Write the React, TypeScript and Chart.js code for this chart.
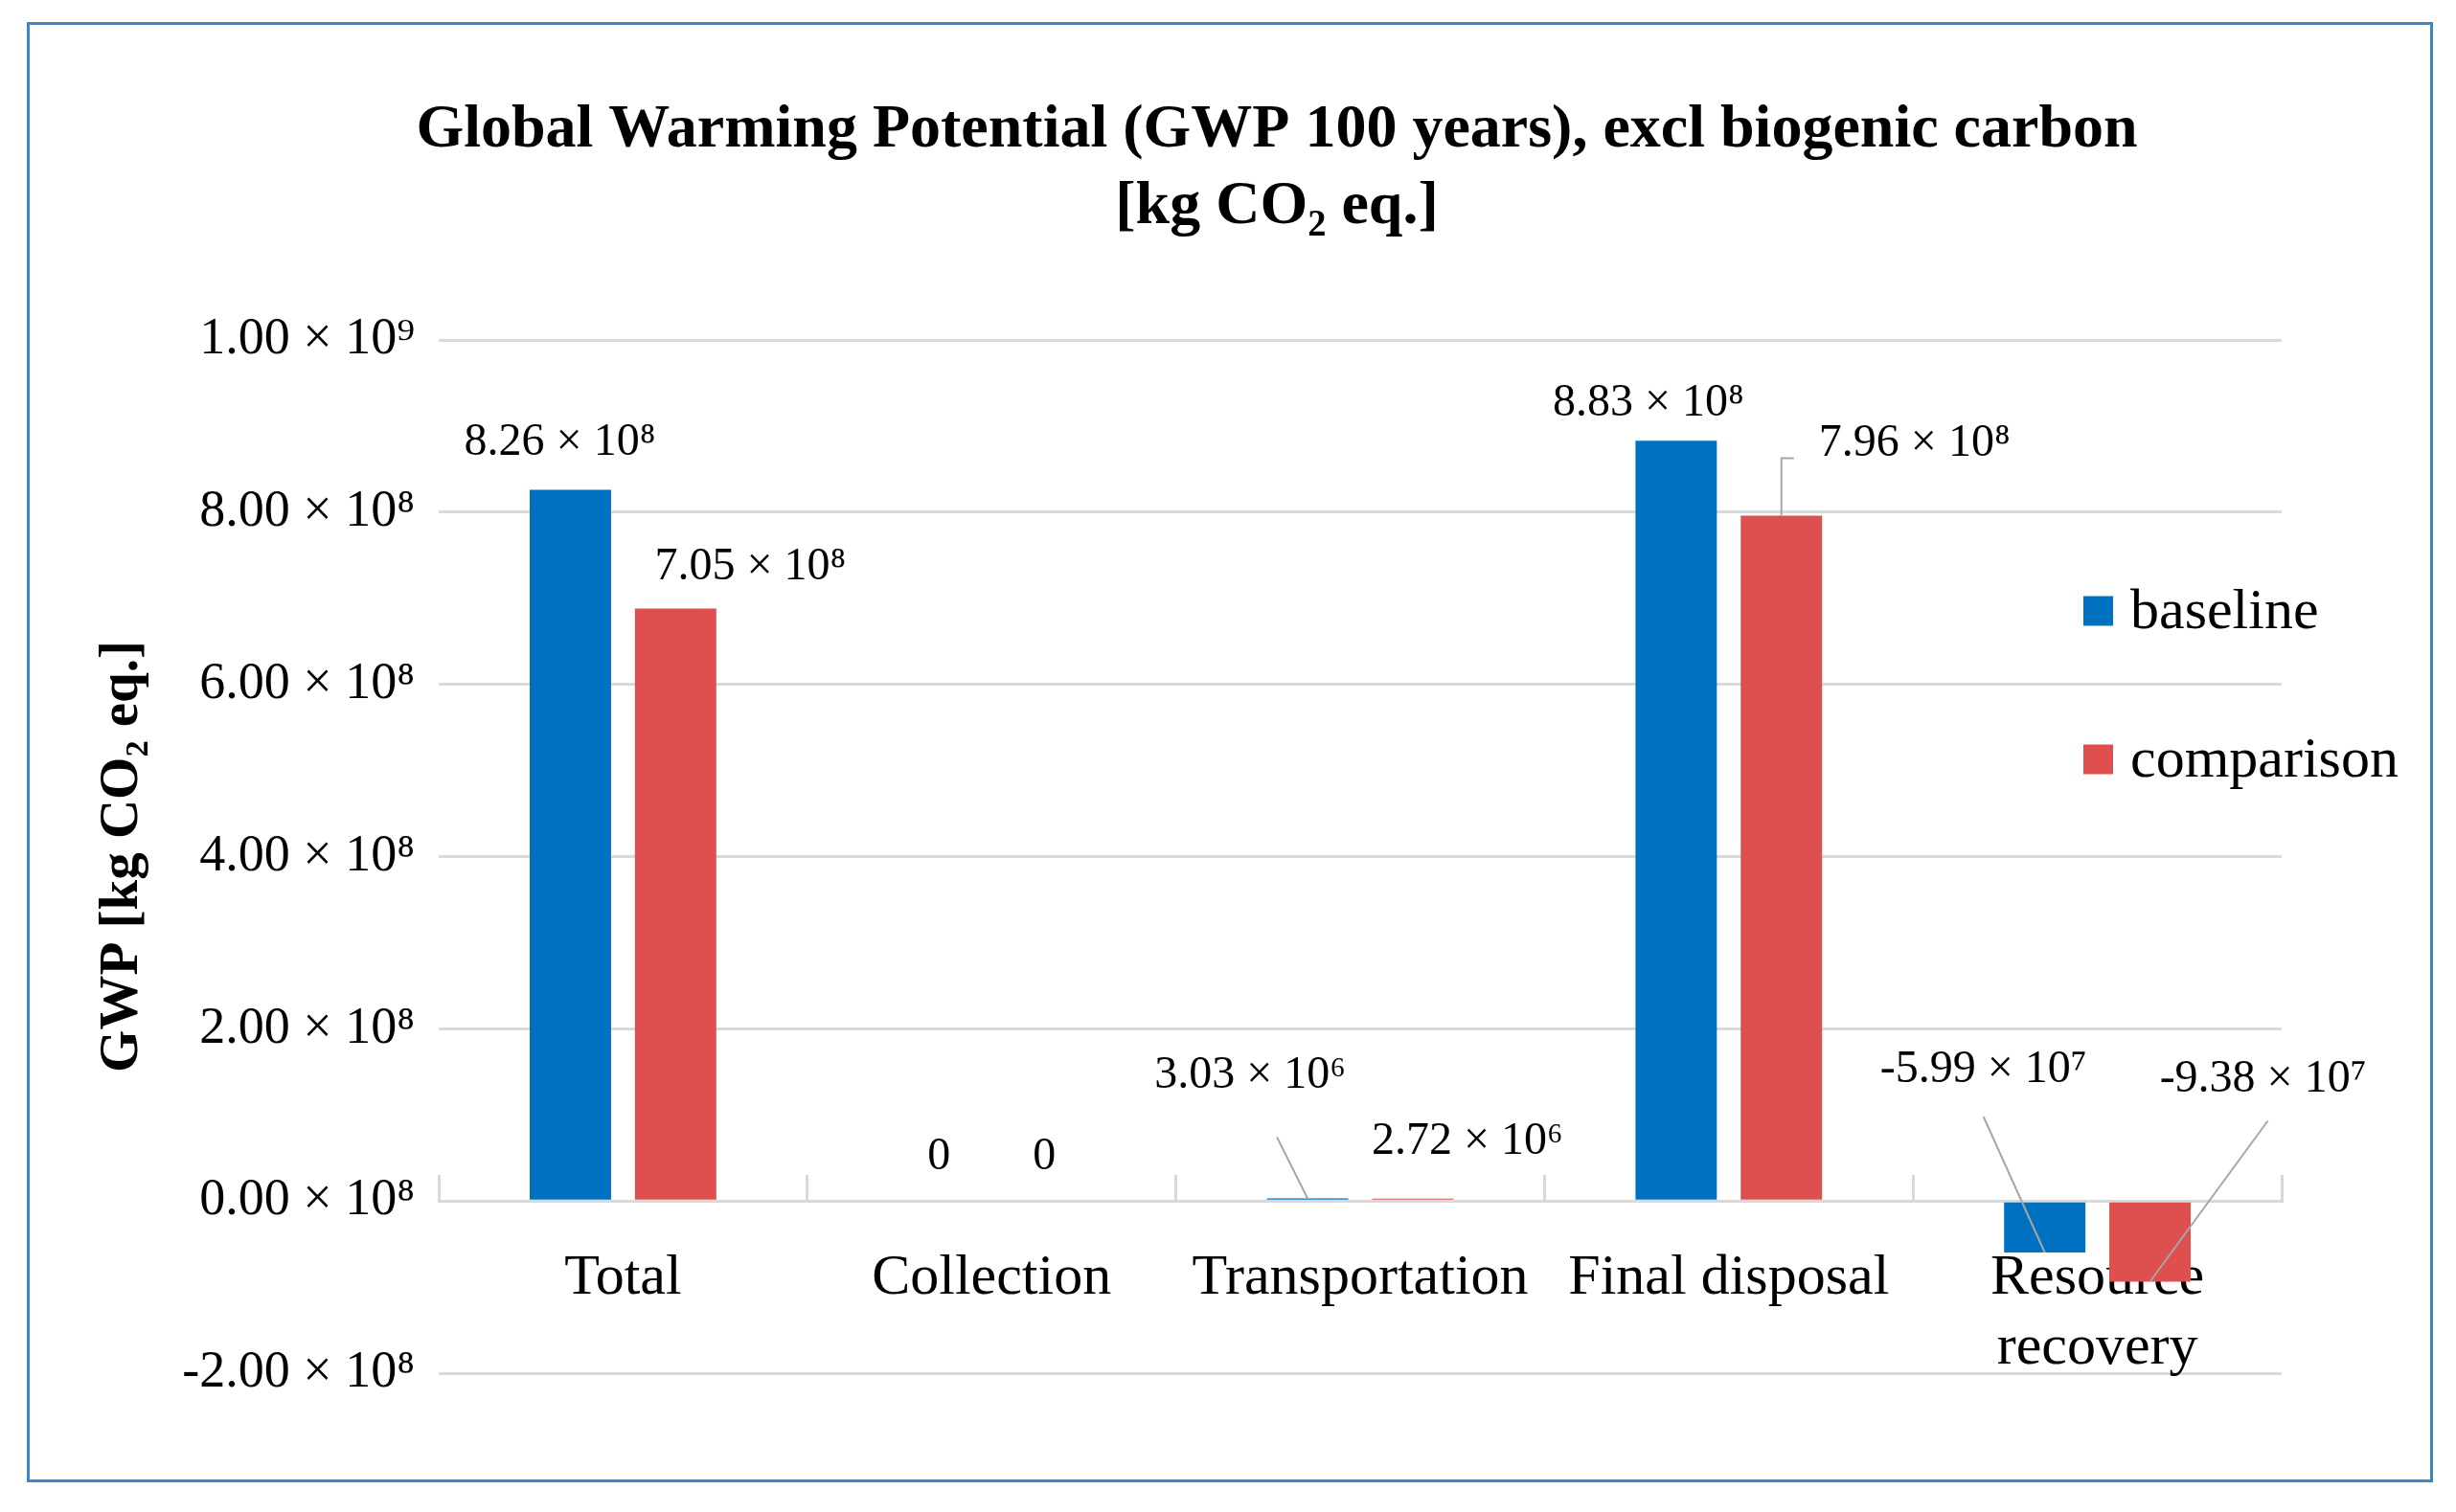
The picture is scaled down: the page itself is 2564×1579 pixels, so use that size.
import { useEffect, useRef } from 'react';
import { Chart, registerables } from 'chart.js';

Chart.register(...registerables);

// ---- data ----
const categories: (string | string[])[] = ['Total', 'Collection', 'Transportation', 'Final disposal', ['Resource', 'recovery']];
const seriesNames = ['baseline', 'comparison'];
// bar heights as drawn in the picture
const baselineValues = [8.26e8, 0, 3.03e6, 8.83e8, -5.99e7];
const comparisonValues = [6.88e8, 0, 2.72e6, 7.96e8, -9.38e7];
// values printed in the data labels
const baselineLabels = [8.26e8, 0, 3.03e6, 8.83e8, -5.99e7];
const comparisonLabels = [7.05e8, 0, 2.72e6, 7.96e8, -9.38e7];
const yMin = -2e8;
const yMax = 1e9;
const yStep = 2e8;
const titleLines = ['Global Warming Potential (GWP 100 years), excl biogenic carbon', '[kg CO\u2082 eq.]'];
const yAxisTitle = 'GWP [kg CO\u2082 eq.]';

// ---- styles / layout ----
const FONT = "'Liberation Serif', 'DejaVu Serif', serif";
const BLUE = '#0070C0';
const RED = '#DE5050';
const GRID = '#D9D9D9';
const LEADER = '#A6A6A6';
const FRAME = '#3E86C6';

// label offsets (px) relative to the value end of each bar, as positioned in the original
const labelOffsets: number[][][] = [
  [[-11, -49], [0, -46], [-60, -128], [-29, -39], [-64, -191]],
  [[78, -43], [0, -46], [57, -59], [139, -75], [118, -211]],
];
// leader line type: 0 none, 1 straight from label, 2 elbow
const leaderTypes: number[][] = [
  [0, 0, 1, 0, 1],
  [0, 0, 0, 2, 1],
];
const leaderStarts: number[][][] = [
  [[0, 0], [0, 0], [28, 64], [0, 0], [0, 49]],
  [[0, 0], [0, 0], [0, 0], [0, 0], [5, 43]],
];
const allLabels = [baselineLabels, comparisonLabels];

const SUP = ['\u2070', '\u00b9', '\u00b2', '\u00b3', '\u2074', '\u2075', '\u2076', '\u2077', '\u2078', '\u2079'];
const sup = (n: number) => String(n).split('').map((d) => SUP[Number(d)]).join('');

function fmtTick(v: number): string {
  const exp = Math.abs(v) >= 1e9 ? 9 : 8;
  const m = v / Math.pow(10, exp);
  return `${m.toFixed(2)} \u00d7 10${sup(exp)}`;
}

function fmtLabel(v: number): string {
  if (v === 0) return '0';
  const exp = Math.floor(Math.log10(Math.abs(v)));
  const m = v / Math.pow(10, exp);
  return `${m.toFixed(2)} \u00d7 10${sup(exp)}`;
}

const decorPlugin = {
  id: 'decor',
  afterDraw(chart: any) {
    const { ctx, chartArea } = chart;
    ctx.save();
    // frame
    ctx.strokeStyle = FRAME;
    ctx.lineWidth = 3;
    ctx.strokeRect(29.5, 24.5, chart.width - 55, chart.height - 57);

    // title
    ctx.fillStyle = '#000';
    ctx.textAlign = 'center';
    ctx.textBaseline = 'alphabetic';
    ctx.font = `bold 64px ${FONT}`;
    const cx = chart.width / 2 + 51;
    ctx.fillText(titleLines[0], cx, 153);
    ctx.fillText(titleLines[1], cx, 233);

    // data labels
    ctx.font = `48px ${FONT}`;
    ctx.textBaseline = 'middle';
    chart.data.datasets.forEach((ds: any, di: number) => {
      const meta = chart.getDatasetMeta(di);
      meta.data.forEach((el: any, i: number) => {
        const v = allLabels[di][i];
        const [dx, dy] = labelOffsets[di][i];
        const lx = el.x + dx;
        const ly = el.y + dy;
        ctx.fillStyle = '#000';
        ctx.textAlign = 'center';
        ctx.fillText(fmtLabel(v), lx, ly);
        const lt = leaderTypes[di][i];
        if (lt) {
          ctx.strokeStyle = LEADER;
          ctx.lineWidth = 2;
          ctx.beginPath();
          if (lt === 1) {
            const [sx, sy] = leaderStarts[di][i];
            ctx.moveTo(lx + sx, ly + sy);
            ctx.lineTo(el.x, el.y);
          } else {
            ctx.moveTo(el.x, el.y);
            ctx.lineTo(el.x, el.y - 60);
            ctx.lineTo(el.x + 13, el.y - 60);
          }
          ctx.stroke();
        }
      });
    });

    // legend
    const colors = [BLUE, RED];
    ctx.font = `60px ${FONT}`;
    ctx.textAlign = 'left';
    ctx.textBaseline = 'middle';
    const legX = chartArea.right - 207;
    [283, 438].forEach((off, k) => {
      const y = chartArea.top + off;
      ctx.fillStyle = colors[k];
      ctx.fillRect(legX, y - 15.5, 31, 31);
      ctx.fillStyle = '#000';
      ctx.fillText(seriesNames[k], legX + 49, y + 2);
    });
    ctx.restore();
  },
};

export default function App() {
  const ref = useRef<HTMLCanvasElement | null>(null);
  useEffect(() => {
    if (!ref.current) return;
    const chart = new Chart(ref.current, {
      type: 'bar',
      data: {
        labels: categories as any,
        datasets: [
          { label: seriesNames[0], data: baselineValues, backgroundColor: BLUE, categoryPercentage: 0.571, barPercentage: 0.773 },
          { label: seriesNames[1], data: comparisonValues, backgroundColor: RED, categoryPercentage: 0.571, barPercentage: 0.773 },
        ],
      },
      options: {
        responsive: false,
        animation: false,
        devicePixelRatio: 1,
        layout: { padding: { left: 0, top: 355, right: 182, bottom: 145 } },
        plugins: { legend: { display: false }, title: { display: false }, tooltip: { enabled: false } },
        scales: {
          x: {
            position: { y: 0 } as any,
            grid: { display: true, drawOnChartArea: false, drawTicks: true, tickLength: -29, color: GRID, lineWidth: 3, offset: true },
            border: { display: true, color: GRID, width: 3 },
            ticks: { color: '#000', padding: 73, font: { family: FONT, size: 60, lineHeight: 1.22 }, maxRotation: 0, autoSkip: false },
          },
          y: {
            min: yMin,
            max: yMax,
            ticks: { stepSize: yStep, callback: (v: any) => fmtTick(Number(v)), color: '#000', padding: 25, font: { family: FONT, size: 54 } },
            grid: { color: GRID, lineWidth: 3, drawTicks: false },
            border: { display: false },
            title: { display: true, text: yAxisTitle, color: '#000', font: { family: FONT, size: 57, weight: 'bold' }, padding: { top: 94, bottom: 0 } },
            afterFit: (scale: any) => { scale.width = 458; },
          },
        },
      },
      plugins: [decorPlugin],
    });
    return () => chart.destroy();
  }, []);
  return (
    <div style={{ position: 'fixed', left: 0, top: 0, width: 2564, height: 1579, background: '#fff' }}>
      <canvas ref={ref} width={2564} height={1579} style={{ width: 2564, height: 1579, display: 'block' }} />
    </div>
  );
}
